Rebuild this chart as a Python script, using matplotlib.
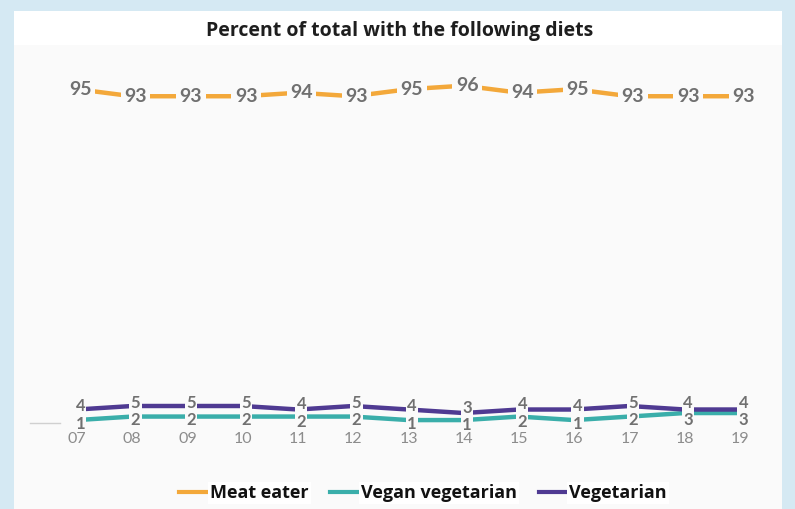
import numpy as np
import matplotlib.pyplot as plt
from matplotlib.patches import Rectangle
from matplotlib.lines import Line2D

# survey years (20xx) and share of respondents per diet, in percent
years = ["07", "08", "09", "10", "11", "12", "13", "14", "15", "16", "17", "18", "19"]
meat_eater = [95, 93, 93, 93, 94, 93, 95, 96, 94, 95, 93, 93, 93]
vegetarian = [4, 5, 5, 5, 4, 5, 4, 3, 4, 4, 5, 4, 4]
vegan_vegetarian = [1, 2, 2, 2, 2, 2, 1, 1, 2, 1, 2, 3, 3]

ORANGE = "#f3a83a"
TEAL = "#3aaeaa"
PURPLE = "#4f3a92"
FRAME = "#d5e9f3"
PLOT_BG = "#fafafa"
LABEL_GREY = "#707070"

W, H = 795, 509
fig = plt.figure(figsize=(W / 100, H / 100), dpi=100, facecolor=FRAME)

# white card on the blue frame
fig.patches.append(Rectangle((14 / W, 0), (782 - 14) / W, (H - 11) / H,
                             transform=fig.transFigure, facecolor="white",
                             edgecolor="none", zorder=-1))

ax = fig.add_axes([14 / W, 0, (782 - 14) / W, (H - 45) / H])
ax.set_facecolor(PLOT_BG)
for s in ax.spines.values():
    s.set_visible(False)

x = np.arange(len(years))
# x: year 07 at 77px, 55.25px per year; y: 3.52px per percent, 0 at 423.6px
px_per_year = 55.25
ax.set_xlim((14 - 77) / px_per_year, (782 - 77) / px_per_year)
ppu = 3.52
ax.set_ylim(-(H - 423.6) / ppu, (423.6 - 45) / ppu)

ax.plot(x, meat_eater, color=ORANGE, lw=3.2, solid_capstyle="butt", zorder=2)
ax.plot(x, vegan_vegetarian, color=TEAL, lw=3.2, solid_capstyle="butt", zorder=2)
ax.plot(x, vegetarian, color=PURPLE, lw=3.2, solid_capstyle="butt", zorder=3)

# faint baseline stub on the left
ax.plot([-0.85, -0.3], [0.3, 0.3], color="#d0d0d0", lw=1, zorder=1)

box = dict(facecolor=PLOT_BG, edgecolor="none", pad=2.5)
for xi, v in zip(x, meat_eater):
    ax.text(xi + 0.06, v, str(v), ha="center", va="center", fontsize=14,
            family="Lato", fontweight="bold", color=LABEL_GREY, bbox=box, zorder=5)

# vegetarian label sits above, vegan label below the midpoint of the two series
small_box = dict(facecolor=PLOT_BG, edgecolor="none", pad=1.0)
for xi, veg, vgn in zip(x, vegetarian, vegan_vegetarian):
    mid = (veg + vgn) / 2
    ax.text(xi + 0.06, mid + 0.2, str(veg), ha="center", va="bottom", fontsize=12,
            family="Lato", fontweight="bold", color=LABEL_GREY, bbox=small_box, zorder=5)
    ax.text(xi + 0.06, mid - 0.2, str(vgn), ha="center", va="top", fontsize=12,
            family="Lato", fontweight="bold", color=LABEL_GREY, bbox=small_box, zorder=6)

ax.set_yticks([])
ax.set_xticks([])
for xi, lab in zip(x, years):
    ax.text(xi, -(439 - 423.6) / ppu, lab, ha="center", va="center", fontsize=11.5,
            family="Lato", color="#8c8c8c", zorder=7)

fig.text(400 / W, 1 - 31 / H, "Percent of total with the following diets",
         ha="center", va="center", fontsize=14, fontweight="bold",
         family="Open Sans", color="#1e1e1e")

handles = [Line2D([], [], color=ORANGE, lw=3),
           Line2D([], [], color=TEAL, lw=3),
           Line2D([], [], color=PURPLE, lw=3)]
leg = fig.legend(handles, ["Meat eater", "Vegan vegetarian", "Vegetarian"],
                 loc="center", bbox_to_anchor=(423 / W, 1 - 493 / H), ncol=3,
                 frameon=False, handlelength=1.7, handletextpad=0.0,
                 columnspacing=1.2,
                 prop=dict(family="Open Sans", weight="bold", size=13))
for t in leg.get_texts():
    t.set_color("#111111")
    t.set_bbox(dict(facecolor="white", edgecolor="none", pad=1.5))

fig.savefig("out.png", dpi=100, facecolor=FRAME)
